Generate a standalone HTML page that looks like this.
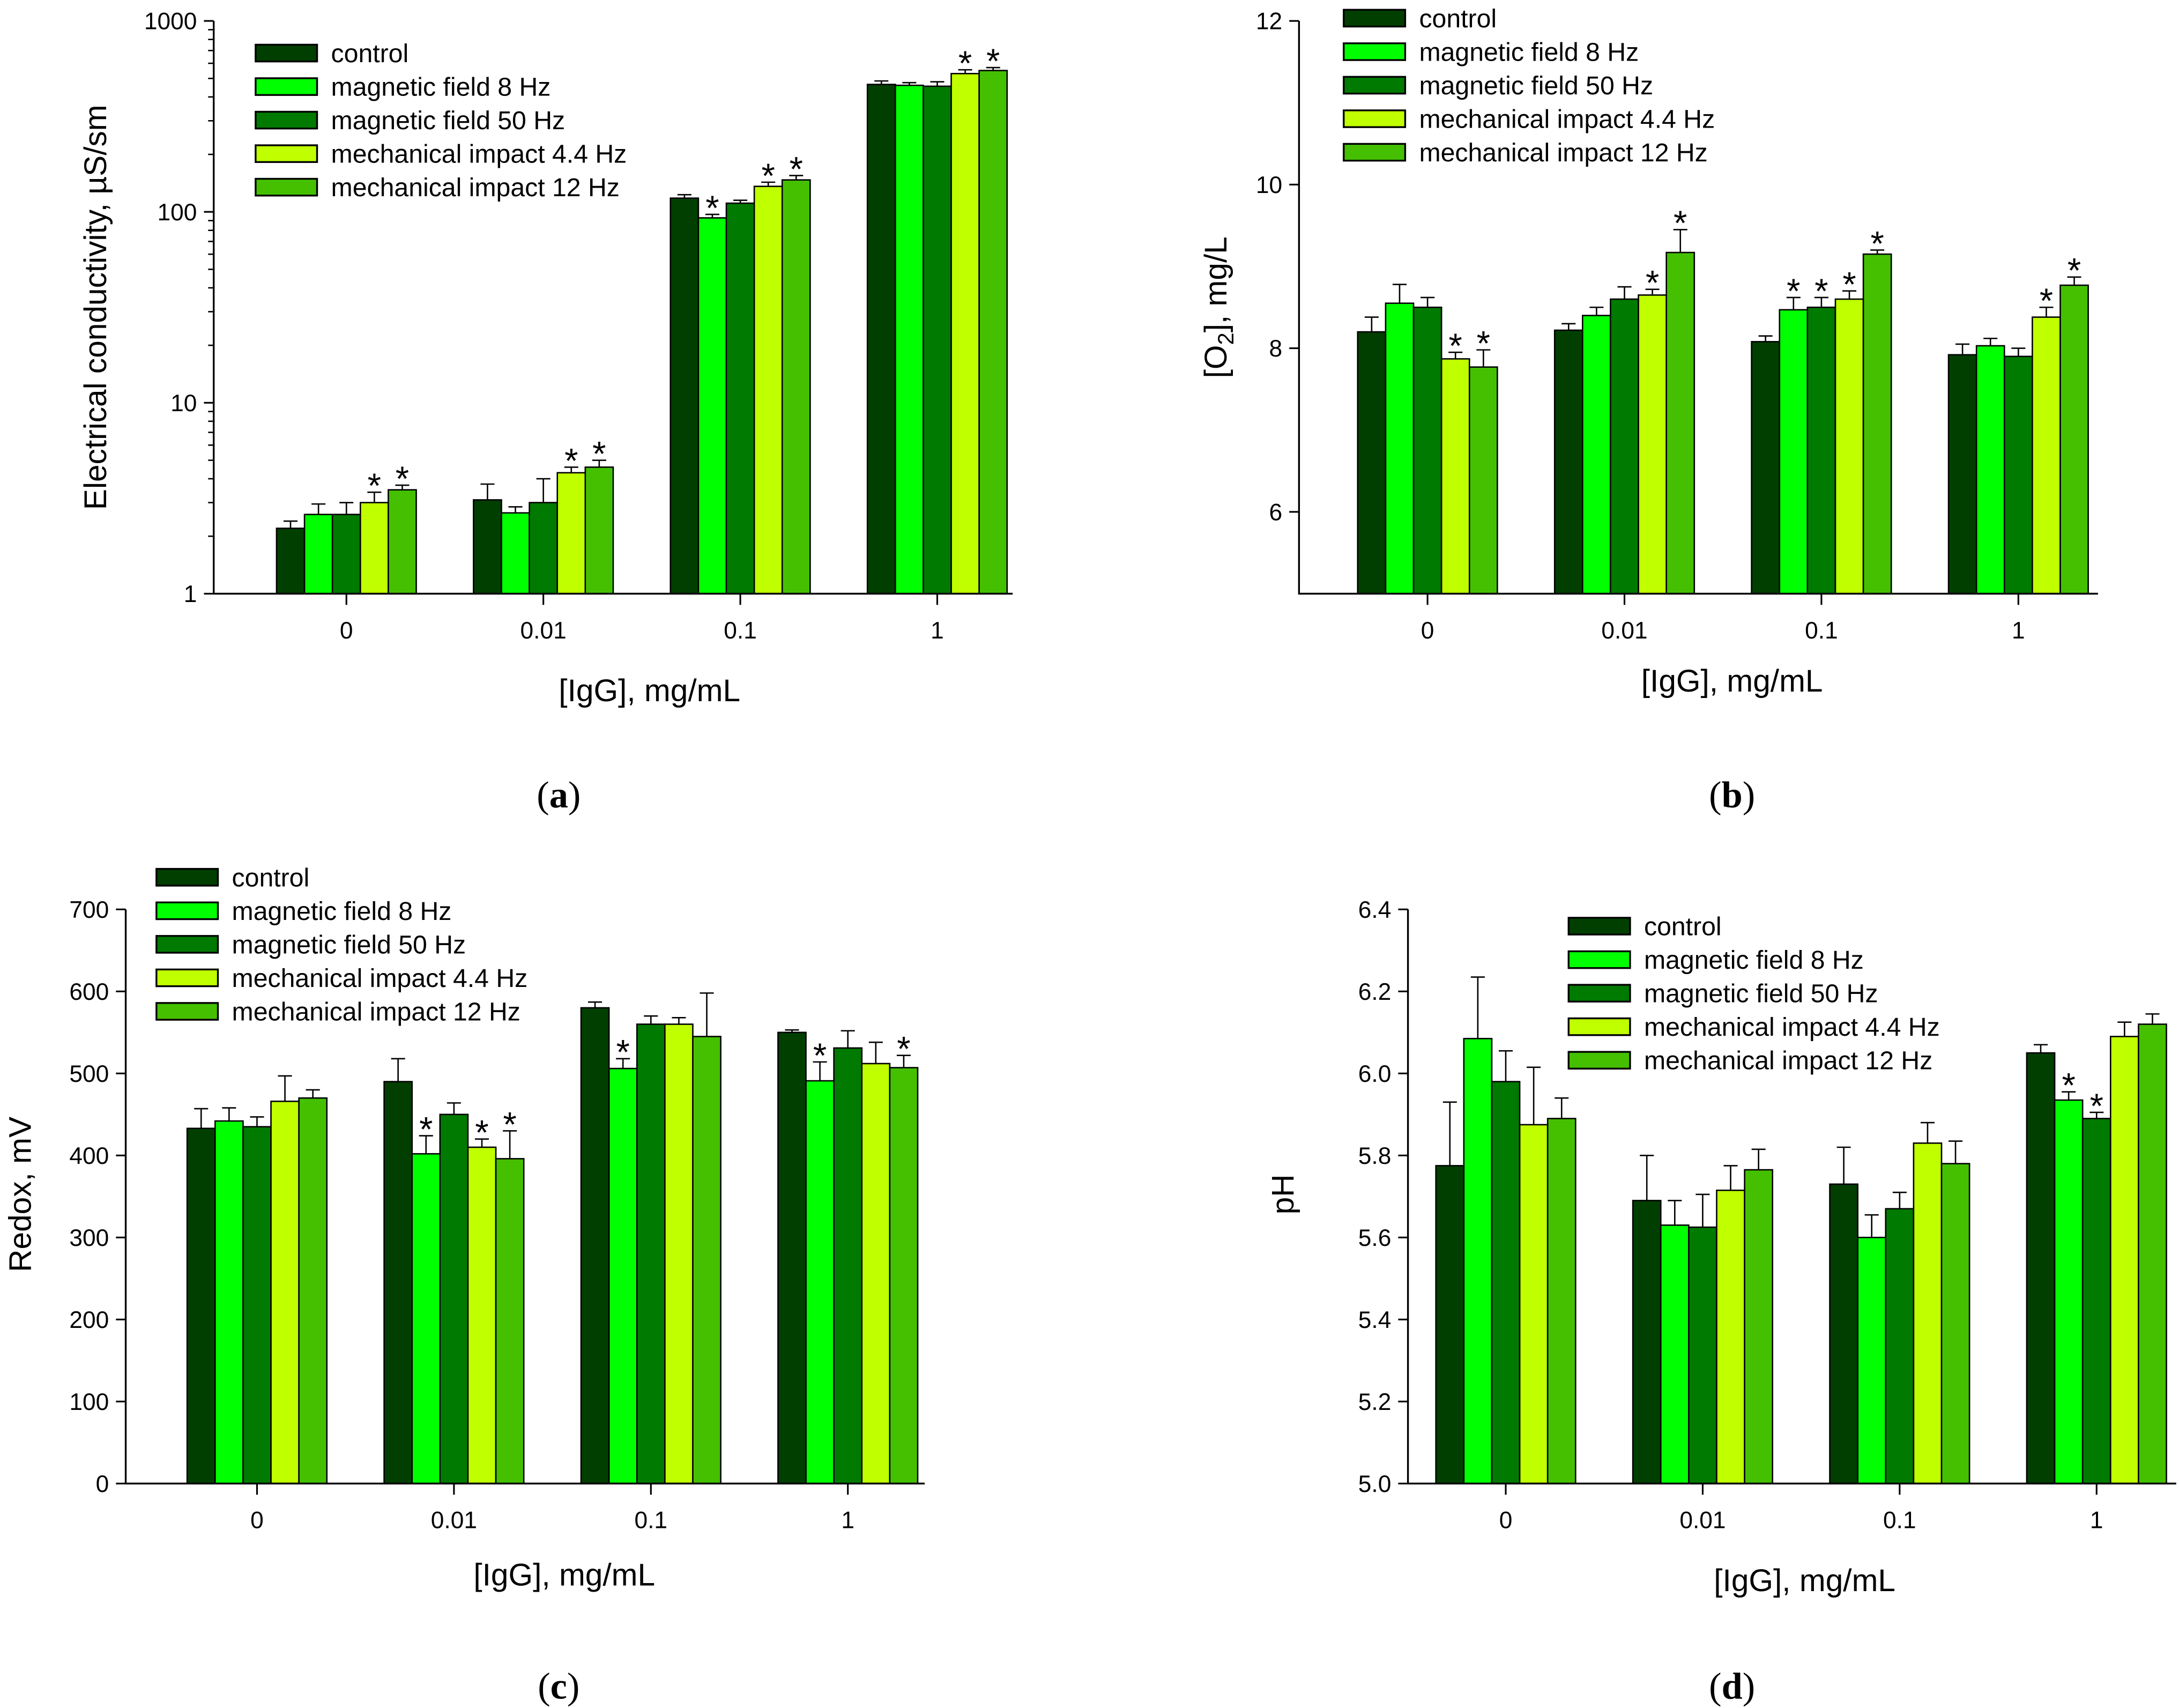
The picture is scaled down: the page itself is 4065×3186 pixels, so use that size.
<!DOCTYPE html>
<html><head><meta charset="utf-8"><style>
html,body{margin:0;padding:0;background:#fff}
svg{display:block}
text{font-family:"Liberation Sans",sans-serif;fill:#000}
</style></head><body>
<svg id="fig" width="4065" height="3186" viewBox="0 0 1560 1222.7" preserveAspectRatio="none" xmlns="http://www.w3.org/2000/svg"></svg>
<script>
const seriesNames=["control","magnetic field 8 Hz","magnetic field 50 Hz","mechanical impact 4.4 Hz","mechanical impact 12 Hz"];
const seriesColors=["#003f00","#00ff00","#007a00","#bfff00","#44c000"];
const categories=["0","0.01","0.1","1"];
// panel a: conductivity
const condValues=[[2.2,2.6,2.6,3.0,3.5],[3.1,2.65,3.0,4.3,4.6],[118,93,111,136,147],[465,460,455,530,550]];
const condTops=[[2.4,2.95,3.0,3.4,3.7],[3.75,2.85,4.0,4.6,5.0],[123,97,115,143,155],[485,475,480,555,570]];
const condStars=[[3,4],[3,4],[1,3,4],[3,4]];
const condTicks=[1,10,100,1000];
// panel b: oxygen
const o2Values=[[8.2,8.55,8.5,7.87,7.77],[8.22,8.4,8.6,8.65,9.17],[8.08,8.47,8.5,8.6,9.15],[7.92,8.03,7.9,8.38,8.77]];
const o2Tops=[[8.38,8.78,8.62,7.95,7.98],[8.3,8.5,8.75,8.72,9.45],[8.15,8.62,8.62,8.7,9.2],[8.05,8.12,8.0,8.5,8.87]];
const o2Stars=[[3,4],[3,4],[1,2,3,4],[3,4]];
const o2Ticks=[6,8,10,12];
// panel c: redox
const redoxValues=[[433,442,435,466,470],[490,402,450,410,396],[580,506,560,560,545],[550,491,531,512,507]];
const redoxTops=[[457,458,447,497,480],[518,424,464,420,430],[587,518,570,568,598],[553,514,552,538,522]];
const redoxStars=[[],[1,3,4],[1],[1,4]];
const redoxTicks=[0,100,200,300,400,500,600,700];
// panel d: pH
const phValues=[[5.775,6.085,5.98,5.875,5.89],[5.69,5.63,5.625,5.715,5.765],[5.73,5.60,5.67,5.83,5.78],[6.05,5.935,5.89,6.09,6.12]];
const phTops=[[5.93,6.235,6.055,6.015,5.94],[5.80,5.69,5.705,5.775,5.815],[5.82,5.655,5.71,5.88,5.835],[6.07,5.955,5.905,6.125,6.145]];
const phStars=[[],[],[],[1,2]];
const phTicks=[5.0,5.2,5.4,5.6,5.8,6.0,6.2,6.4];

const NS="http://www.w3.org/2000/svg";
const svg=document.getElementById('fig');
function mk(tag,attrs,parent,txt){const e=document.createElementNS(NS,tag);for(const k in attrs)e.setAttribute(k,attrs[k]);if(txt!==undefined)e.textContent=txt;(parent||svg).appendChild(e);return e;}

function panel(o){
  const g=mk('g',{});
  
  
  const y=o.log?(v=>o.y0-(Math.log10(v)-Math.log10(o.min))/(Math.log10(o.max)-Math.log10(o.min))*(o.y0-o.y1))
              :(v=>o.y0-(v-o.min)/(o.max-o.min)*(o.y0-o.y1));
  const x=i=>o.c0+i*141;
  const bw=20;
  o.vals.forEach((grp,gi)=>{
    grp.forEach((v,si)=>{
      const bx=x(gi)+(si-2.5)*bw;
      const base=o.y0;
      const r=mk('rect',{x:bx,y:y(v),width:bw,height:base-y(v),fill:seriesColors[si],stroke:'#000','stroke-width':1},g);
      
      
      const cx=bx+bw/2,t=y(o.tops[gi][si]);
      const e=mk('path',{d:`M${cx},${y(v)}V${t}M${cx-5},${t}H${cx+5}`,stroke:'#000','stroke-width':1,fill:'none'},g);
      
      
    });
    o.stars[gi].forEach(si=>{
      const cx=x(gi)+(si-2)*bw;
      const s=mk('text',{x:cx,y:y(o.tops[gi][si])+4,'text-anchor':'middle','font-size':25},g,'*');
      
      
    });
  });
  const ax=mk('path',{d:`M${o.xl},${o.y1}V${o.y0}H${o.xr}`,stroke:'#000','stroke-width':1.3,fill:'none'},g);
  
  
  o.ticks.forEach(tv=>{
    mk('line',{x1:o.xl-7,x2:o.xl,y1:y(tv),y2:y(tv),stroke:'#000','stroke-width':1.2},g);
    const t=mk('text',{x:o.xl-12,y:y(tv)+6,'text-anchor':'end','font-size':17},g,o.fmt(tv));
    
    
  });
  if(o.log){for(let d=1;d<1000;d*=10)for(let m=2;m<10;m++)mk('line',{x1:o.xl-4,x2:o.xl,y1:y(d*m),y2:y(d*m),stroke:'#000','stroke-width':1},g);}
  categories.forEach((c,i)=>{
    mk('line',{x1:x(i),x2:x(i),y1:o.y0,y2:o.y0+8,stroke:'#000','stroke-width':1.2},g);
    const t=mk('text',{x:x(i),y:o.y0+32,'text-anchor':'middle','font-size':17},g,c);
    
    
  });
  const xt=mk('text',{x:o.xtx,y:o.xty,'text-anchor':'middle','font-size':22.5},g,'[IgG], mg/mL');
  
  
  const yt=mk('text',{x:0,y:0,'text-anchor':'middle','font-size':22.5,transform:`translate(${o.ytx},${o.yty}) rotate(-90)`},g);
  
  
  if(o.o2){yt.textContent='[O';mk('tspan',{'font-size':16,dy:5},yt,'2');mk('tspan',{dy:-5},yt,'], mg/L');}
  else yt.textContent=o.ytitle;
  seriesNames.forEach((n,i)=>{
    const ly=o.ly+i*24;
    const sw=mk('rect',{x:o.lx,y:ly-6,width:44,height:12,fill:seriesColors[i],stroke:'#000','stroke-width':1.3},g);
    
    
    const t=mk('text',{x:o.lx+54,y:ly+6.5,'font-size':18.5},g,n);
    
    
  });
  const pl=mk('text',{x:o.plx,y:o.ply,'text-anchor':'middle','font-size':27,style:'font-family:"Liberation Serif",serif'},g);
  
  
  pl.textContent='(';mk('tspan',{'font-weight':'bold'},pl,o.label);mk('tspan',{},pl,')');
}
panel({name:'panel-a-conductivity',key:'a',log:true,min:1,max:1000,y0:425,y1:15,xl:153,xr:725,c0:248,vals:condValues,tops:condTops,stars:condStars,ticks:condTicks,fmt:v=>String(v),xtx:465,xty:502,ytx:76,yty:220,ytitle:'Electrical conductivity, \u00b5S/sm',lx:183,ly:38,plx:400,ply:578,label:'a'});
panel({name:'panel-b-oxygen',key:'b',min:5,max:12,y0:425,y1:15,xl:930,xr:1502,c0:1022,vals:o2Values,tops:o2Tops,stars:o2Stars,ticks:o2Ticks,fmt:v=>String(v),xtx:1240,xty:495,ytx:878,yty:220,o2:true,lx:962,ly:13,plx:1240,ply:578,label:'b'});
panel({name:'panel-c-redox',key:'c',min:0,max:700,y0:1062,y1:651,xl:90,xr:662,c0:184,vals:redoxValues,tops:redoxTops,stars:redoxStars,ticks:redoxTicks,fmt:v=>String(v),xtx:404,xty:1135,ytx:22,yty:855,ytitle:'Redox, mV',lx:112,ly:628,plx:400,ply:1216,label:'c'});
panel({name:'panel-d-ph',key:'d',min:5,max:6.4,y0:1062,y1:651,xl:1008,xr:1558,c0:1078,vals:phValues,tops:phTops,stars:phStars,ticks:phTicks,fmt:v=>v.toFixed(1),xtx:1292,xty:1139,ytx:926,yty:855,ytitle:'pH',lx:1123,ly:663,plx:1240,ply:1216,label:'d'});
</script>
</body></html>
